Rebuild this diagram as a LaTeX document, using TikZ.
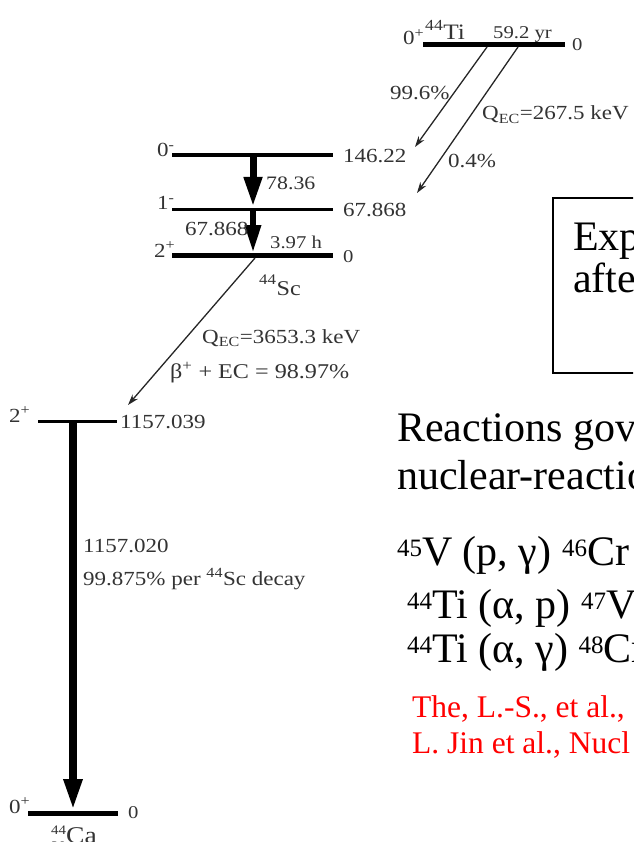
\documentclass[tikz,border=0pt]{standalone}
\usepackage{fontspec}
\setmainfont{Liberation Serif}
\newfontfamily\dia[FakeStretch=1.15]{Liberation Serif}
\usetikzlibrary{arrows.meta}
\newcommand\fs[1]{\fontsize{#1}{#1}\selectfont}
\newcommand\supx[1]{\textsuperscript{#1}}
\newcommand\subx[1]{\textsubscript{#1}}
\newcommand\supr[1]{\raisebox{9pt}{\fontsize{25}{25}\selectfont #1}}
\begin{document}
\begin{tikzpicture}[x=1pt,y=-1pt,
  lab/.style={inner sep=0pt, anchor=base west, text=black!80, font={\dia\fs{20}}},
  big/.style={inner sep=0pt, anchor=base west, text=black, font={\fs{42}}},
  refs/.style={inner sep=0pt, anchor=base west, text=red, font={\fs{31.5}}},
  decay/.style={line width=1.3pt, draw=black!85, -{Stealth[length=11pt,width=7pt]}},
  lvl/.style={line width=#1, draw=black},
  gam/.style={draw=black, line width=7pt}]
\useasboundingbox (0,0) rectangle (633,842);
\clip (0,0) rectangle (633,842);

% ---------- 44Ti ----------
\coordinate (tiL) at (423,44.5); \coordinate (tiR) at (565,44.5);
\draw[lvl=5pt] (tiL) -- (tiR);
\node[lab] (tiSpin) at (403,45) {0\supx{+}};
\node[lab, font={\dia\fs{22}}] (tiName) at (425,40) {\raisebox{2pt}{\supx{44}}Ti};
\node[lab, font={\dia\fs{18}}] (tiHl) at (493,39) {59.2 yr};
\node[lab, font={\dia\fs{18}}] (tiE) at (572,51) {0};

\coordinate (a1s) at (487,47); \coordinate (a1e) at (415,147);
\coordinate (a2s) at (518,47); \coordinate (a2e) at (417,193);
\draw[decay] (a1s) -- (a1e);
\draw[decay] (a2s) -- (a2e);
\node[lab] (br1) at (390,100) {99.6\%};
\node[lab] (qti) at (482,120) {Q\subx{EC}=267.5 keV};
\node[lab] (br2) at (448,168) {0.4\%};

% ---------- 44Sc ----------
\coordinate (s0L) at (172,155); \coordinate (s0R) at (333,155);
\coordinate (s1L) at (172,209.5); \coordinate (s1R) at (333,209.5);
\coordinate (s2L) at (172,255); \coordinate (s2R) at (333,255);
\draw[lvl=4.5pt] (s0L) -- (s0R);
\draw[lvl=3pt] (s1L) -- (s1R);
\draw[lvl=5pt] (s2L) -- (s2R);
\node[lab] (s0Spin) at (157,157) {0\supx{-}};
\node[lab] (s1Spin) at (157,210) {1\supx{-}};
\node[lab] (s2Spin) at (154,257) {2\supx{+}};
\node[lab] (s0E) at (343,163) {146.22};
\node[lab] (s1E) at (343,217) {67.868};
\node[lab, font={\dia\fs{18}}] (s2E) at (343,262) {0};

\coordinate (g1s) at (253,157); \coordinate (g1e) at (253,207);
\coordinate (g2s) at (253,211); \coordinate (g2e) at (253,253);
\draw[gam, -{Triangle[length=30pt,width=17pt]}] (g1s) -- (g1e);
\draw[gam, line width=6pt, -{Triangle[length=28pt,width=15pt]}] (g2s) -- (g2e);
\node[lab, font={\dia\fs{19}}] (g1l) at (266,190) {78.36};
\node[lab] (g2l) at (185,235) {67.868};
\node[lab, font={\dia\fs{18}}] (scHl) at (270,248) {3.97 h};
\node[lab, font={\dia\fs{21}}] (scName) at (259,295) {\raisebox{3pt}{\supx{44}}Sc};

\coordinate (a3s) at (255,258); \coordinate (a3e) at (128,405);
\draw[decay] (a3s) -- (a3e);
\node[lab] (qsc) at (202,343) {Q\subx{EC}=3653.3 keV};
\node[lab, font={\dia\fs{21}}] (bsc) at (170,378) {β\supx{+} + EC = 98.97\%};

% ---------- 44Ca ----------
\coordinate (c2L) at (38,421); \coordinate (c2R) at (117,421);
\coordinate (c0L) at (28,813.5); \coordinate (c0R) at (118,813.5);
\draw[lvl=3pt] (c2L) -- (c2R);
\draw[lvl=5pt] (c0L) -- (c0R);
\node[lab] (c2Spin) at (9,422) {2\supx{+}};
\node[lab] (c2E) at (120,428) {1157.039};
\node[lab] (c0Spin) at (9,813) {0\supx{+}};
\node[lab, font={\dia\fs{18}}] (c0E) at (128,818) {0};

\coordinate (g3s) at (73,423); \coordinate (g3e) at (73,811);
\draw[gam, line width=8pt, -{Triangle[length=32pt,width=17pt]}] (g3s) -- (g3e);
\node[lab] (g3l) at (83,552) {1157.020};
\node[lab] (g3p) at (83,585) {99.875\% per \supx{44}Sc decay};
\node[lab, font={\dia\fs{24}}] (caName) at (66,843) {Ca};
\node[lab, font={\dia\fs{13}}] (caA) at (51,834) {44};
\node[lab, font={\dia\fs{13}}] (caZ) at (51,850) {20};

% ---------- right side ----------
\draw[line width=1.5pt] (553,198) rectangle (720,373);
\node[big] (exp1) at (573,250) {Expected};
\node[big] (exp2) at (573,292) {after};

\node[big] (r1) at (397,441) {Reactions governing};
\node[big] (r2) at (397,489) {nuclear-reaction};
\node[big] (r3) at (397,565) {\supr{45}V (p, γ) \supr{46}Cr};
\node[big] (r4) at (407,618) {\supr{44}Ti (α, p) \supr{47}V};
\node[big] (r5) at (407,662) {\supr{44}Ti (α, γ) \supr{48}Cr};

\node[refs] (ref1) at (412,717) {The, L.-S., et al.,};
\node[refs] (ref2) at (412,753) {L. Jin et al., Nucl};
\end{tikzpicture}
\end{document}
